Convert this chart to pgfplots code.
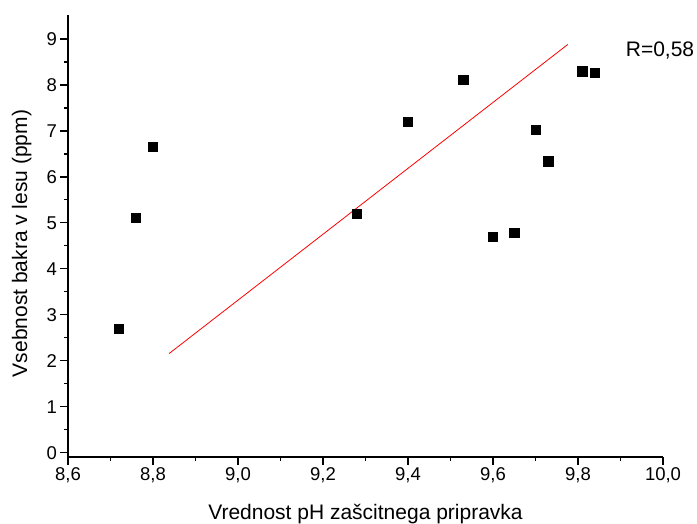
\documentclass[border=0pt]{standalone}
\usepackage{fontspec}
\setmainfont{Liberation Sans}
\usepackage{pgfplots}
\pgfplotsset{compat=1.18}
\begin{document}
\begin{tikzpicture}
\begin{axis}[name=ax, scale only axis, width=595bp, height=442bp,
 xmin=8.6, xmax=10.0, ymin=-0.09, ymax=9.52,
 axis x line=bottom, axis y line=left,
 axis line style={-, line width=1.2bp, black},
 xtick={8.6,8.8,9.0,9.2,9.4,9.6,9.8,10.0}, minor x tick num=1,
 ytick={0,1,2,3,4,5,6,7,8,9}, minor y tick num=1,
 tick align=outside, major tick length=7.5bp, minor tick length=4bp,
 every tick/.style={line width=1.2bp, black},
 xticklabel style={/pgf/number format/.cd, use comma, fixed, fixed zerofill, precision=1},
 /pgf/number format/assume math mode=true,
 tick label style={font=\fontsize{18.5bp}{22bp}\selectfont},
 label style={font=\fontsize{21bp}{25bp}\selectfont},
 xlabel={Vrednost pH zašcitnega pripravka},
 ylabel={Vsebnost bakra v lesu (ppm)},
 xlabel style={at={(axis description cs:0.5,-0.1403)}, anchor=base},
 ylabel style={at={(axis description cs:-0.0689,0.483)}, anchor=base},
 clip=false,
]
\addplot[red, line width=0.8bp, no marks] coordinates {(8.838,2.16) (9.776,8.88)};
\addplot[only marks, mark=square*, mark size=4.6bp, black] coordinates {
(8.72,2.70) (8.76,5.11) (8.80,6.65) (9.28,5.20) (9.40,7.20) (9.53,8.12)
(9.60,4.70) (9.65,4.79) (9.70,7.02) (9.73,6.34) (9.81,8.30) (9.84,8.26)};
\node[anchor=base, font=\fontsize{21bp}{25bp}\selectfont] at (axis cs:9.993,8.62) {R=0,58};
\end{axis}
\pgfresetboundingbox
\path ([xshift=-68bp,yshift=-67bp]ax.south west) rectangle ++(697bp,524bp);
\end{tikzpicture}
\end{document}
